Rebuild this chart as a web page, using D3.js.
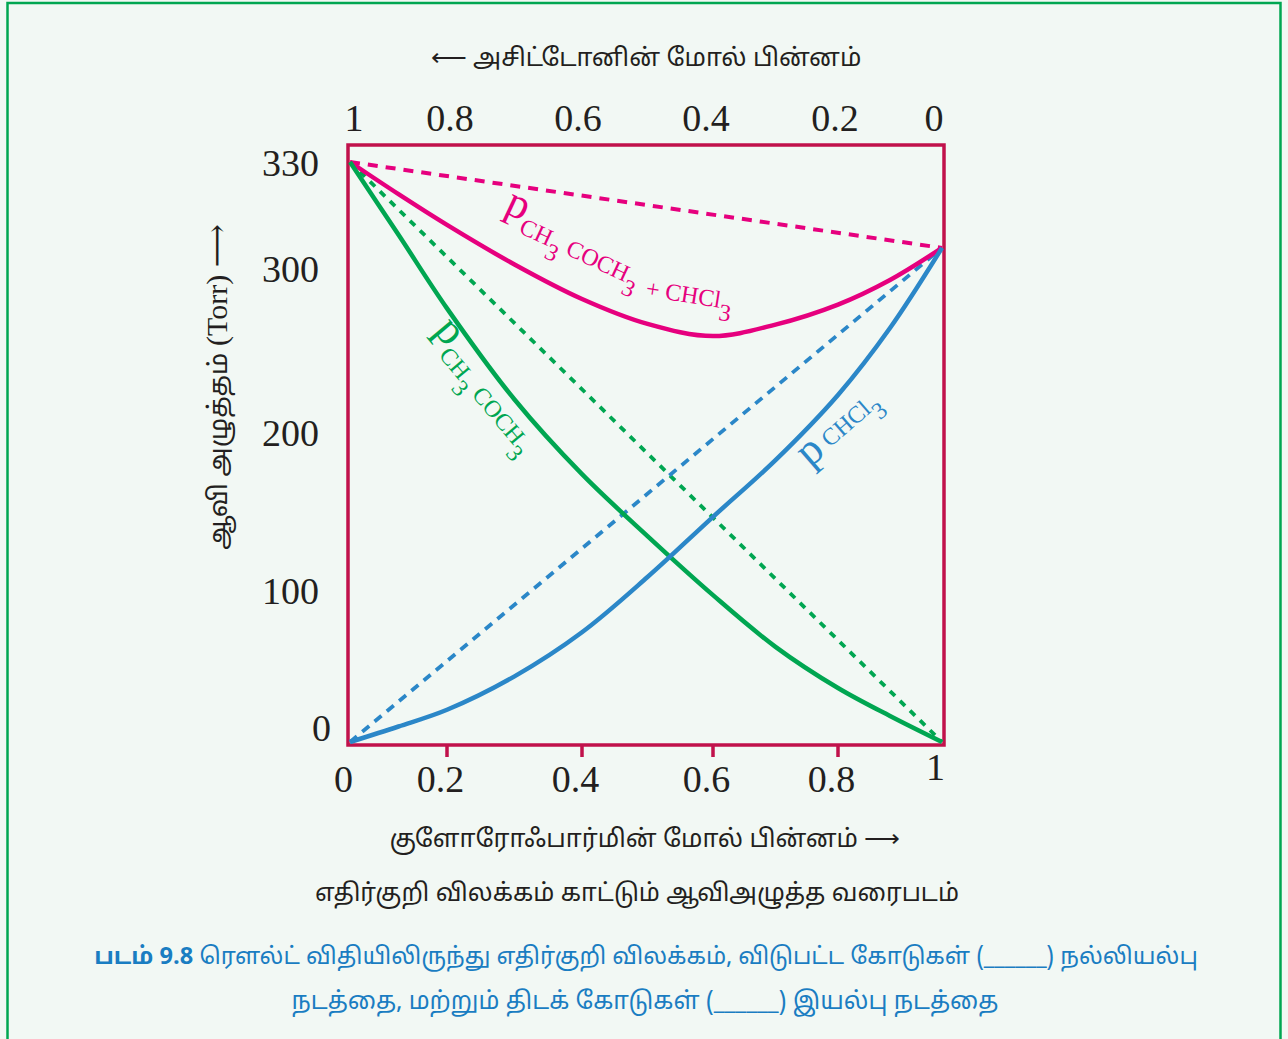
<!DOCTYPE html>
<html>
<head>
<meta charset="utf-8">
<script src="https://cdn.jsdelivr.net/npm/d3@7"></script>
<style>
  html, body { margin: 0; padding: 0; background: #f2f8f4; }
  svg { display: block; }
</style>
</head>
<body>
<svg id="chart" width="1288" height="1039"></svg>
<script>
// ---------------- data ----------------
const xTicks = [0, 0.2, 0.4, 0.6, 0.8, 1];            // bottom axis: mole fraction of CHCl3
const topTicks = [1, 0.8, 0.6, 0.4, 0.2, 0];          // top axis: mole fraction of acetone
const yTicks = [0, 100, 200, 300, 330];               // vapour pressure (Torr)
const xChcl3 = [0, 0.1, 0.2, 0.3, 0.4, 0.5, 0.6, 0.7, 0.8, 0.9, 1.0];
const pTotal = [330, 320.9, 312.2, 301.0, 281.1, 265.9, 258.5, 265.5, 277.7, 292.7, 305.7];
const pAcetone = [330, 309.4, 275.4, 219.8, 173.3, 134.1, 96.6, 62.6, 35.5, 17.1, 0];
const pChcl3 = [0, 10.2, 21.2, 43.2, 72.2, 108.2, 146.3, 182.2, 222.6, 263.4, 305.7];
// ideal (Raoult) lines: end points
const idealX = [0, 1];
const idealTotal = [330, 305.7];
const idealAcetone = [330, 0];
const idealChcl3 = [0, 305.7];

const topTitle = "⟵ அசிட்டோனின் மோல் பின்னம்";
const yTitleTa = "ஆவி அழுத்தம் ";
const yTitleUnit = "(Torr)";
const xTitle = "குளோரோஃபார்மின் மோல் பின்னம் ⟶";
const subTitle = "எதிர்குறி விலக்கம் காட்டும் ஆவிஅழுத்த வரைபடம்";
const captionBold = "படம் 9.8 ";
const caption1 = "ரௌல்ட் விதியிலிருந்து எதிர்குறி விலக்கம், விடுபட்ட கோடுகள் (______) நல்லியல்பு";
const caption2 = "நடத்தை, மற்றும் திடக் கோடுகள் (______) இயல்பு நடத்தை";

// ---------------- styles ----------------
const PINK = "#e6007e", GREEN = "#00a651", BLUE = "#2b87c8", FRAME = "#c1124b";
const TAMIL = "'Noto Sans Tamil','Noto Sans Tamil UI','Lohit Tamil','Latha','Noto Sans',sans-serif";
const SERIF = "'Liberation Serif','DejaVu Serif',serif";

const svg = d3.select("#chart");

// outer green border
svg.append("rect").attr("x", 7.5).attr("y", 3).attr("width", 1273).attr("height", 1060)
  .attr("fill", "#f2f8f4").attr("stroke", "#00a651").attr("stroke-width", 2.5);

// scales (schematic, piecewise linear as in the figure)
const xScale = d3.scaleLinear().domain(xTicks).range([350, 447, 582, 713, 838, 942]);
const topScale = d3.scaleLinear().domain(topTicks).range([354, 450, 578, 706, 835, 934]);
const yScale = d3.scaleLinear().domain(yTicks).range([742, 590, 432, 268, 162]);

// frame
svg.append("rect").attr("x", 348).attr("y", 145).attr("width", 596).attr("height", 600)
  .attr("fill", "none").attr("stroke", FRAME).attr("stroke-width", 3.5);

// bottom ticks (interior)
svg.append("g").selectAll("line").data(xTicks.filter(d => d > 0 && d < 1)).join("line")
  .attr("x1", d => xScale(d)).attr("x2", d => xScale(d))
  .attr("y1", 745).attr("y2", 757)
  .attr("stroke", FRAME).attr("stroke-width", 3.5);

// bottom tick labels
svg.append("g").selectAll("text").data(xTicks).join("text")
  .attr("x", d => xScale(d) - 6.5)
  .attr("y", d => d === 1 ? 780 : 792)
  .attr("text-anchor", "middle")
  .attr("font-family", SERIF).attr("font-size", 38).attr("fill", "#231f20")
  .text(d => d3.format("~g")(d));

// top tick labels (acetone mole fraction)
svg.append("g").selectAll("text").data(topTicks).join("text")
  .attr("x", d => topScale(d))
  .attr("y", 131)
  .attr("text-anchor", "middle")
  .attr("font-family", SERIF).attr("font-size", 38).attr("fill", "#231f20")
  .text(d => d3.format("~g")(d));

// left tick labels
svg.append("g").selectAll("text").data(yTicks).join("text")
  .attr("x", d => d === 0 ? 331 : 319)
  .attr("y", d => d === 0 ? yScale(d) - 14 : yScale(d) + 1)
  .attr("dominant-baseline", "central")
  .attr("text-anchor", "end")
  .attr("font-family", SERIF).attr("font-size", 38).attr("fill", "#231f20")
  .text(d => d);

// lines
const line = d3.line().x(d => xScale(d[0])).y(d => yScale(d[1])).curve(d3.curveCatmullRom.alpha(0.5));
const zip = (xs, ys) => xs.map((x, i) => [x, ys[i]]);

const plot = svg.append("g");
// ideal (dashed)
plot.append("path").datum(zip(idealX, idealTotal)).attr("d", line)
  .attr("fill", "none").attr("stroke", PINK).attr("stroke-width", 4).attr("stroke-dasharray", "10,8");
plot.append("path").datum(zip(idealX, idealAcetone)).attr("d", line)
  .attr("fill", "none").attr("stroke", GREEN).attr("stroke-width", 3.8).attr("stroke-dasharray", "7,7");
plot.append("path").datum(zip(idealX, idealChcl3)).attr("d", line)
  .attr("fill", "none").attr("stroke", BLUE).attr("stroke-width", 3.8).attr("stroke-dasharray", "9,7");
// real (solid)
plot.append("path").datum(zip(xChcl3, pTotal)).attr("d", line)
  .attr("fill", "none").attr("stroke", PINK).attr("stroke-width", 4.5);
plot.append("path").datum(zip(xChcl3, pAcetone)).attr("d", line)
  .attr("fill", "none").attr("stroke", GREEN).attr("stroke-width", 4.5);
plot.append("path").datum(zip(xChcl3, pChcl3)).attr("d", line)
  .attr("fill", "none").attr("stroke", BLUE).attr("stroke-width", 4.5);

// curve labels
function chemLabel(x, y, angle, color, parts) {
  const t = svg.append("text")
    .attr("transform", `translate(${x},${y}) rotate(${angle})`)
    .attr("font-family", SERIF).attr("fill", color);
  parts.forEach(p => {
    const ts = t.append("tspan").attr("font-size", p.size).text(p.text);
    if (p.dy) ts.attr("dy", p.dy);
  });
  return t;
}
chemLabel(503, 212, 25, PINK, [
  {text: "p", size: 44},
  {text: "CH", size: 24, dy: 12},
  {text: "3", size: 24, dy: 12},
  {text: " COCH", size: 24, dy: -12},
  {text: "3", size: 24, dy: 12}
]);
chemLabel(645, 296, 9, PINK, [
  {text: "+ CHCl", size: 24},
  {text: "3", size: 24, dy: 12}
]);
chemLabel(433, 331, 50, GREEN, [
  {text: "p", size: 44},
  {text: "CH", size: 24, dy: 12},
  {text: "3", size: 24, dy: 12},
  {text: " COCH", size: 24, dy: -12},
  {text: "3", size: 24, dy: 12}
]);
chemLabel(810, 468, -41, BLUE, [
  {text: "p", size: 44},
  {text: " CHCl", size: 24, dy: -2},
  {text: "3", size: 24, dy: 12}
]);

// titles
svg.append("text").attr("x", 646).attr("y", 66).attr("text-anchor", "middle")
  .attr("font-family", TAMIL).attr("font-size", 25).attr("fill", "#231f20").text(topTitle);

const yt = svg.append("text")
  .attr("transform", "translate(227,387) rotate(-90)")
  .attr("text-anchor", "middle")
  .attr("font-family", TAMIL).attr("font-size", 26).attr("fill", "#231f20");
yt.append("tspan").text(yTitleTa);
yt.append("tspan").attr("font-family", SERIF).attr("font-size", 30).text(yTitleUnit + " ⟶");

svg.append("text").attr("x", 645).attr("y", 847).attr("text-anchor", "middle")
  .attr("font-family", TAMIL).attr("font-size", 25).attr("fill", "#231f20").text(xTitle);

svg.append("text").attr("x", 637).attr("y", 901).attr("text-anchor", "middle")
  .attr("font-family", TAMIL).attr("font-size", 24.6).attr("fill", "#231f20").text(subTitle);

const c1 = svg.append("text").attr("x", 646).attr("y", 964).attr("text-anchor", "middle")
  .attr("font-family", TAMIL).attr("font-size", 23.6).attr("fill", "#1a7dc2");
c1.append("tspan").attr("font-weight", "bold").text(captionBold);
c1.append("tspan").text(caption1);

svg.append("text").attr("x", 645).attr("y", 1009).attr("text-anchor", "middle")
  .attr("font-family", TAMIL).attr("font-size", 24.4).attr("fill", "#1a7dc2").text(caption2);
</script>
</body>
</html>
